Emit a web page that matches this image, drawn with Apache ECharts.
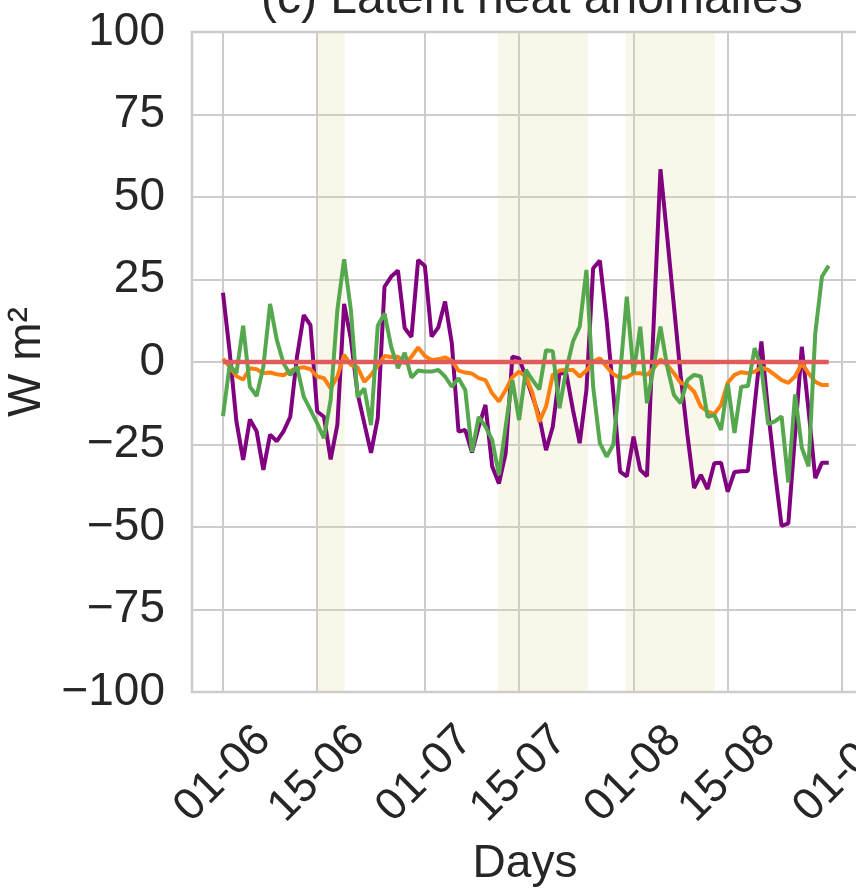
<!DOCTYPE html>
<html>
<head>
<meta charset="utf-8">
<script src="https://cdn.jsdelivr.net/npm/echarts@6/dist/echarts.min.js"></script>
<style>
  html, body { margin: 0; padding: 0; background: #fff; }
  #main { width: 856px; height: 890px; }
</style>
</head>
<body>
<div id="main"></div>
<script>
// daily values, day 0 = 1 June
var purple = [21, 3, -18, -29.7, -17.4, -21, -32.7, -22, -24, -21, -16.6, 1.6, 14.2, 11.2, -15, -16.6,
    -29.5, -19, 17.6, 7, -9.5, -18.6, -27.5, -17, 22.8, 25.9, 27.7, 10.3, 7.6, 30.9, 29.1, 7.7, 10.5,
    18.3, 5.7, -21.1, -20.6, -27.4, -19.6, -13, -31.7, -36.8, -27.7, 1.6, 1.1, -4.5, -10.5, -16.6,
    -26.7, -19.6, -3.4, -3.4, -14.5, -24.6, -8.5, 28.4, 30.7, 12.7, -9.5, -33.2, -34.7, -22.6, -32.7,
    -34.6, 12, 58.4, 38, 17, -4, -22, -38.2, -34.2, -38.5, -30.7, -30.5, -39.3, -33.3, -33.1, -33,
    -13, 6.2, -15, -33, -49.7, -48.9, -22, 4.6, -14.5, -35.2, -30.5, -30.5];
var green = [-16.4, -0.9, -3.4, 11, -7.5, -10.3, -1.4, 17.6, 6.7, -0.4, -3.9, -1.4, -10.5, -14.5,
    -18.6, -23.1, -11.5, 15.8, 31.1, 15.8, -10.6, -8, -19.1, 11, 14.7, 4.6, -1.9, 2.8, -4.7, -2.6,
    -2.9, -2.9, -2.4, -4.4, -7.5, -4.9, -8.5, -27.2, -16.6, -19.6, -23.6, -34.2, -19.6, -5.5, -17.6,
    -2.4, -5.5, -8.3, 3.6, 3.3, -14, -2.4, 6.2, 10.7, 27.9, -7.5, -24.6, -28.7, -25, -4, 19.8, -3.4,
    10.7, -12.5, -1.4, 10.7, -1.4, -10, -12.5, -5.5, -3.9, -4.4, -16.6, -16.1, -20.6, -6.6, -21.5,
    -7.5, -7.3, 4.2, -1.9, -18.8, -18, -16.5, -36.5, -9.8, -26, -31.6, 8.7, 25.9, 29.2];
var orange = [1, -1.4, -4.3, -5.3, -1.9, -2.2, -3.4, -3.2, -3.7, -4, -2.7, -1.9, -1.6, -2.2, -4.4,
    -4.9, -8, -4.4, 2.2, -0.9, -1.6, -6, -3.9, -1.1, 1.8, 1.5, 1.6, -0.4, 1.6, 4.4, 1.8, 0.6, 0.8,
    1.4, 0.4, -2.6, -3.2, -3.5, -4.9, -5.5, -9.5, -12, -8.5, -4.6, -2.9, -4.4, -9.5, -18.1, -13.5,
    -3.9, -2.6, -2.4, -2.4, -4.4, -2.6, 0.1, 1.1, -1.4, -3.7, -4.8, -4.6, -3.4, -3.4, -3.9, -1.9,
    0.8, -0.9, -3.4, -6.3, -7, -9, -13.5, -15, -15.8, -13, -6.3, -3.9, -3.1, -3.4, -2.9, -1.6, -2.4,
    -3.9, -5.5, -6.3, -4.4, -0.4, -3.4, -6, -7, -7];
var red = [0, 0, 0, 0, 0, 0, 0, 0, 0, 0, 0, 0, 0, 0, 0, 0, 0, 0, 0, 0, 0, 0, 0, 0, 0, 0, 0, 0, 0, 0,
    0, 0, 0, 0, 0, 0, 0, 0, 0, 0, 0, 0, 0, 0, 0, 0, 0, 0, 0, 0, 0, 0, 0, 0, 0, 0, 0, 0, 0, 0, 0, 0,
    0, 0, 0, 0, 0, 0, 0, 0, 0, 0, 0, 0, 0, 0, 0, 0, 0, 0, 0, 0, 0, 0, 0, 0, 0, 0, 0, 0, 0];

var tickDays = [0, 14, 30, 44, 61, 75, 92];
var tickLabels = ['01-06', '15-06', '01-07', '15-07', '01-08', '15-08', '01-09'];
// shaded periods (day index)
var bands = [[14, 18.1], [40.8, 54.2], [59.8, 73.1]];

function pairs(arr) {
    return arr.map(function (v, i) { return [i, v]; });
}

var font = 'Liberation Sans, Arial, sans-serif';
var dom = document.getElementById('main');
var chart = echarts.init(dom);

var option = {
    animation: false,
    title: {
        text: '(c) Latent heat anomalies',
        left: 256,
        top: -29,
        textStyle: { fontFamily: font, fontSize: 48, fontWeight: 'normal', color: '#262626' }
    },
    grid: {
        left: 192, right: -2, top: 32, bottom: 198,
        outerBoundsMode: 'none',
        containLabel: false,
        show: true,
        borderColor: '#cccccc',
        borderWidth: 2.5
    },
    xAxis: {
        type: 'value',
        min: -4.6,
        max: 94.35,
        name: 'Days',
        nameLocation: 'middle',
        nameGap: 149,
        nameTextStyle: { fontFamily: font, fontSize: 46, color: '#262626' },
        axisLine: { show: false },
        axisTick: { show: false, customValues: tickDays },
        axisLabel: {
            customValues: tickDays,
            rotate: 45,
            align: 'center',
            verticalAlign: 'middle',
            margin: 82,
            hideOverlap: false,
            fontFamily: font,
            fontSize: 45,
            color: '#262626',
            formatter: function (v) {
                var k = tickDays.indexOf(v);
                return k >= 0 ? tickLabels[k] : '';
            }
        },
        splitLine: { show: true, lineStyle: { color: '#cccccc', width: 2 } }
    },
    yAxis: {
        type: 'value',
        min: -100,
        max: 100,
        interval: 25,
        name: 'W m²',
        nameLocation: 'middle',
        nameGap: 138,
        nameTextStyle: { fontFamily: font, fontSize: 46, color: '#262626' },
        axisLine: { show: false },
        axisTick: { show: false },
        axisLabel: {
            margin: 27,
            fontFamily: font,
            fontSize: 46,
            color: '#262626',
            formatter: function (v) { return String(v).replace('-', '\u2212'); }
        },
        splitLine: { show: true, lineStyle: { color: '#cccccc', width: 2 } }
    },
    series: [
        {
            name: 'purple', type: 'line', data: pairs(purple),
            showSymbol: false, lineStyle: { color: '#800080', width: 4 },
            markArea: {
                silent: true,
                itemStyle: { color: 'rgba(228, 216, 160, 0.22)' },
                data: bands.map(function (b) { return [{ xAxis: b[0] }, { xAxis: b[1] }]; })
            }
        },
        {
            name: 'orange', type: 'line', data: pairs(orange),
            showSymbol: false, lineStyle: { color: '#ff7f0e', width: 4 }
        },
        {
            name: 'green', type: 'line', data: pairs(green),
            showSymbol: false, lineStyle: { color: '#55a84d', width: 4 }
        },
        {
            name: 'red', type: 'line', data: pairs(red),
            showSymbol: false, lineStyle: { color: '#e05c5c', width: 4.5 }
        }
    ]
};

chart.setOption(option);

window.addEventListener('resize', function () {
    chart.resize();
});
</script>
</body>
</html>
